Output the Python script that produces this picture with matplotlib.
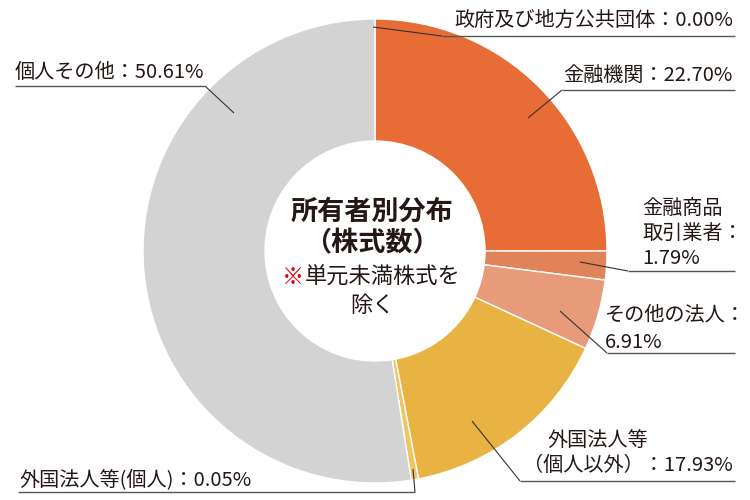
import matplotlib
matplotlib.use("Agg")
import matplotlib.pyplot as plt

plt.rcParams['font.family'] = ['Noto Sans CJK JP', 'DejaVu Sans']

# Categories (clockwise from top) and label percentages
categories = ["政府及び地方公共団体", "金融機関", "金融商品取引業者", "その他の法人",
              "外国法人等（個人以外）", "外国法人等(個人)", "個人その他"]
label_pct = [0.00, 22.70, 1.79, 6.91, 17.93, 0.05, 50.61]
# Wedge sizes as drawn in the reference picture (%)
wedge_size = [0.0, 25.0, 2.0, 4.9, 15.1, 0.5, 52.5]
colors = ["#E86C35", "#E86C35", "#E0825A", "#E89B7B", "#E8B343", "#EFC463", "#D3D3D3"]

W, H = 750, 500
fig = plt.figure(figsize=(7.5, 5), dpi=100)
ax = fig.add_axes([0, 0, 1, 1])

def Y(y):
    return H - y

R_OUT, R_IN = 232, 110
ax.pie(wedge_size, colors=colors, startangle=90, counterclock=False,
       radius=R_OUT, center=(375, Y(251)),
       wedgeprops=dict(width=R_OUT - R_IN, edgecolor="white", linewidth=1.0))
ax.set_xlim(0, W)
ax.set_ylim(0, H)
ax.set_aspect('equal')
ax.axis('off')

TXT = "#231815"
LINE = "#333333"
ULINE = "#555555"
FS = 14.5

def fmt(v):
    return f"{v:.2f}%"

def leader(p0, p1, x_end):
    ax.plot([p0[0], p1[0]], [Y(p0[1]), Y(p1[1])], color=LINE, lw=0.8, solid_capstyle='butt')
    ax.plot([p1[0], x_end], [Y(p1[1]), Y(p1[1])], color=ULINE, lw=1.0, solid_capstyle='butt')

def txt(x, y, s, ha='left', **kw):
    ax.text(x, Y(y), s, ha=ha, va='center', fontsize=FS, color=TXT, **kw)

# 政府及び地方公共団体
txt(733, 20, f"{categories[0]}：{fmt(label_pct[0])}", ha='right')
leader((373, 27), (442, 36), 735)

# 金融機関
txt(733, 75, f"{categories[1]}：{fmt(label_pct[1])}", ha='right')
leader((528, 118), (562, 90), 735)

# 金融商品取引業者
txt(642, 208, "金融商品")
txt(642, 233, "取引業者：")
txt(642, 258, fmt(label_pct[2]))
leader((580, 262), (628, 271), 735)

# その他の法人
txt(605, 315, f"{categories[3]}：")
txt(605, 342, fmt(label_pct[3]))
leader((560, 311), (607, 353), 735)

# 外国法人等（個人以外）
txt(547, 440, "外国法人等")
txt(733, 465, f"（個人以外）：{fmt(label_pct[4])}", ha='right')
leader((472, 421), (520, 481), 735)

# 外国法人等（個人）
txt(19, 480, f"{categories[5]}：{fmt(label_pct[5])}")
leader((413, 469), (415, 492), 18)

# 個人その他
txt(15, 72, f"{categories[6]}：{fmt(label_pct[6])}")
leader((234, 113), (205, 86), 15)

# Center text
ax.text(372, Y(212), "所有者別分布", ha='center', va='center', fontsize=19.5,
        fontweight='bold', color=TXT)
ax.text(372, Y(243), "（株式数）", ha='center', va='center', fontsize=19.5,
        fontweight='bold', color=TXT)
ax.text(282, Y(277), "※", ha='left', va='center', fontsize=16, color="#E60012")
ax.text(305, Y(277), "単元未満株式を", ha='left', va='center', fontsize=16, color=TXT)
ax.text(372, Y(305), "除く", ha='center', va='center', fontsize=16, color=TXT)

fig.savefig("out.png", dpi=100)
